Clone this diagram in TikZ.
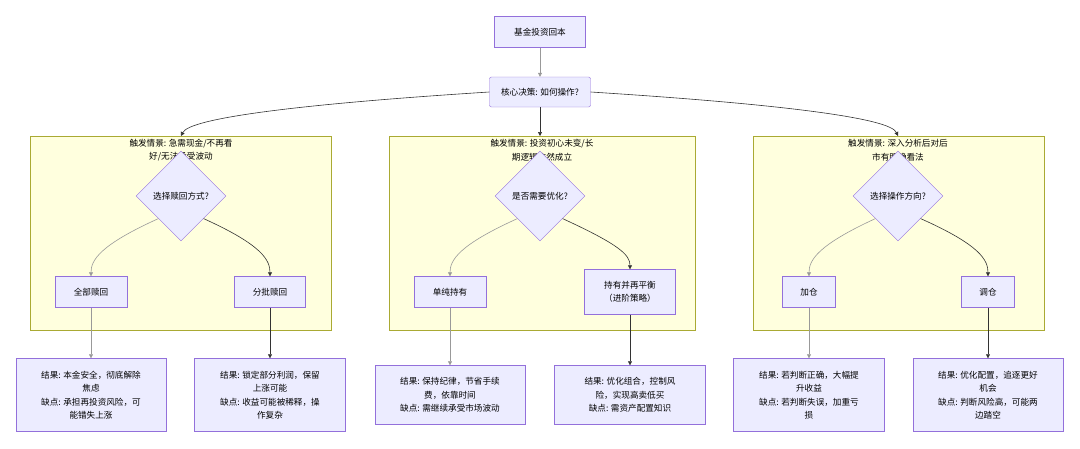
\documentclass[tikz,border=0pt]{standalone}
\usepackage{fontspec}
\setmainfont{Noto Sans CJK SC}
\usetikzlibrary{shapes.geometric,arrows.meta,positioning,calc}
\definecolor{nodefill}{HTML}{ECECFF}
\definecolor{nodeline}{HTML}{9370DB}
\definecolor{clusterfill}{HTML}{FFFFDE}
\definecolor{clusterline}{HTML}{AAAA33}
\definecolor{edgedark}{HTML}{333333}

\begin{document}
\begin{tikzpicture}[
    x=1pt, y=-1pt,
    font=\fontsize{8.6}{13.5}\selectfont,
    box/.style={rectangle, draw=nodeline, fill=nodefill, align=center, inner sep=0pt},
    choice/.style={diamond, draw=nodeline, fill=nodefill, align=center, minimum width=90pt, minimum height=90pt, inner sep=0pt},
    cluster/.style={draw=clusterline, fill=clusterfill},
    arrow/.style={-{Triangle[length=4pt,width=4pt]}, edgedark, line width=0.6pt},
    softarrow/.style={-{Triangle[length=4pt,width=4pt]}, gray!80, line width=0.6pt}
]
    \useasboundingbox (0,0) rectangle (1080,448);

    % clusters
    \draw[cluster] (30,136) rectangle (331,330);
    \draw[cluster] (389,136) rectangle (695,330);
    \draw[cluster] (753,136) rectangle (1044,330);
    \node[align=center] (t1) at (181,150) {触发情景: 急需现金/不再看\\好/无法承受波动};
    \node[align=center] (t2) at (542,150) {触发情景: 投资初心未变/长\\期逻辑依然成立};
    \node[align=center] (t3) at (898,150) {触发情景: 深入分析后对后\\市有明确看法};

    % top
    \node[box, minimum width=91pt, minimum height=31pt] (start) at (540,32) {基金投资回本};
    \node[box, rounded corners=2pt, minimum width=101pt, minimum height=30pt] (core) at (540,92) {核心决策: 如何操作?};

    % decisions
    \node[choice] (q1) at (181,196) {选择赎回方式?};
    \node[choice] (q2) at (540,196) {是否需要优化?};
    \node[choice] (q3) at (898,196) {选择操作方向?};

    % options
    \node[box, minimum width=72pt, minimum height=31pt] (full) at (91,292) {全部赎回};
    \node[box, minimum width=71pt, minimum height=31pt] (part) at (270,292) {分批赎回};
    \node[box, minimum width=72pt, minimum height=31pt] (hold) at (450,292) {单纯持有};
    \node[box, minimum width=91pt, minimum height=45pt] (rebal) at (630,292) {持有并再平衡\\（进阶策略）};
    \node[box, minimum width=53pt, minimum height=31pt] (add) at (809,292) {加仓};
    \node[box, minimum width=53pt, minimum height=31pt] (swap) at (988,292) {调仓};

    % outcomes
    \node[box, minimum width=150pt, minimum height=73pt] (r1) at (91,395) {结果: 本金安全，彻底解除\\焦虑\\缺点: 承担再投资风险，可\\能错失上涨};
    \node[box, minimum width=151pt, minimum height=73pt] (r2) at (270,395) {结果: 锁定部分利润，保留\\上涨可能\\缺点: 收益可能被稀释，操\\作复杂};
    \node[box, minimum width=150pt, minimum height=59pt] (r3) at (450,395) {结果: 保持纪律，节省手续\\费，依靠时间\\缺点: 需继续承受市场波动};
    \node[box, minimum width=151pt, minimum height=59pt] (r4) at (630,395) {结果: 优化组合，控制风\\险，实现高卖低买\\缺点: 需资产配置知识};
    \node[box, minimum width=151pt, minimum height=73pt] (r5) at (809,395) {结果: 若判断正确，大幅提\\升收益\\缺点: 若判断失误，加重亏\\损};
    \node[box, minimum width=150pt, minimum height=73pt] (r6) at (988,395) {结果: 优化配置，追逐更好\\机会\\缺点: 判断风险高，可能两\\边踏空};

    % connectors
    \draw[softarrow] (start) -- (core);
    \draw[arrow] (core.west) .. controls (300,104) and (190,118) .. (181,136);
    \draw[arrow] (core) -- (540,136);
    \draw[arrow] (core.east) .. controls (780,104) and (890,118) .. (898,136);

    \draw[softarrow] (q1.south west) .. controls (100,245) and (91,260) .. (full.north);
    \draw[arrow] (q1.south east) .. controls (262,245) and (270,260) .. (part.north);
    \draw[softarrow] (q2.south west) .. controls (459,245) and (450,260) .. (hold.north);
    \draw[arrow] (q2.south east) .. controls (620,245) and (630,255) .. (rebal.north);
    \draw[softarrow] (q3.south west) .. controls (818,245) and (809,260) .. (add.north);
    \draw[arrow] (q3.south east) .. controls (980,245) and (988,260) .. (swap.north);

    \draw[softarrow] (full) -- (r1);
    \draw[arrow] (part) -- (r2);
    \draw[softarrow] (hold) -- (r3);
    \draw[arrow] (rebal) -- (r4);
    \draw[softarrow] (add) -- (r5);
    \draw[arrow] (swap) -- (r6);
\end{tikzpicture}
\end{document}
